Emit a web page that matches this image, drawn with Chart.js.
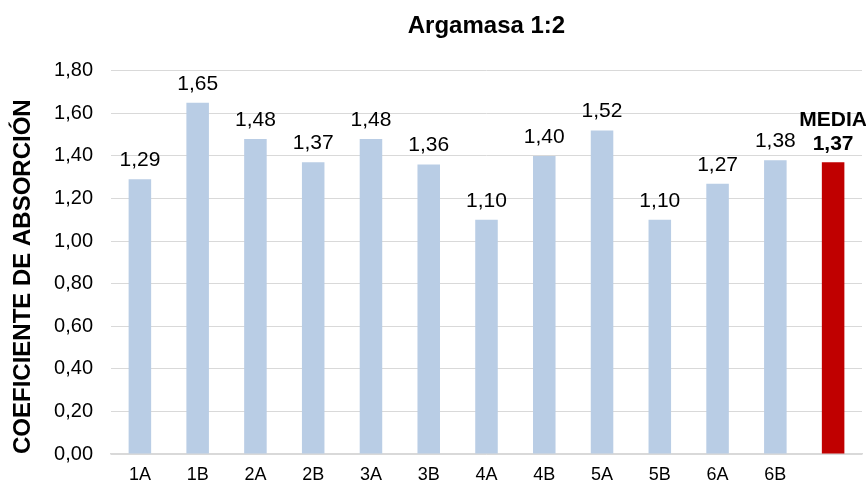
<!DOCTYPE html>
<html>
<head>
<meta charset="utf-8">
<script src="https://cdn.jsdelivr.net/npm/chart.js@4.4.1/dist/chart.umd.min.js"></script>
<style>
  html, body { margin: 0; padding: 0; background: #fff; }
  #wrap { width: 866px; height: 486px; position: relative; }
</style>
</head>
<body>
<div id="wrap"><canvas id="absorcionChart"></canvas></div>
<script>
// Muestras de argamasa 1:2 y la media final
const categorias = ['1A', '1B', '2A', '2B', '3A', '3B', '4A', '4B', '5A', '5B', '6A', '6B', ''];
const coeficientes = [1.29, 1.65, 1.48, 1.37, 1.48, 1.36, 1.10, 1.40, 1.52, 1.10, 1.27, 1.38, 1.37];
const etiquetaMedia = 'MEDIA';
const tituloGrafico = 'Argamasa 1:2';
const tituloEjeY = 'COEFICIENTE DE ABSORCIÓN';

const AZUL = '#B9CDE5';
const ROJO = '#C00000';
const FUENTE = '"Liberation Sans", Arial, sans-serif';

const formatoComa = v => Number(v).toFixed(2).replace('.', ',');

// etiquetas de valor encima de cada barra; la última lleva "MEDIA" en negrita
const etiquetasValor = {
    id: 'etiquetasValor',
    afterDatasetsDraw(chart) {
        const ctx = chart.ctx;
        const meta = chart.getDatasetMeta(0);
        const ultimo = meta.data.length - 1;
        ctx.save();
        ctx.textAlign = 'center';
        ctx.textBaseline = 'alphabetic';
        ctx.fillStyle = '#000';
        meta.data.forEach((bar, i) => {
            const texto = formatoComa(coeficientes[i]);
            if (i === ultimo) {
                ctx.font = 'bold 21px ' + FUENTE;
                ctx.fillText(texto, bar.x, bar.y - 12);
                ctx.fillText(etiquetaMedia, bar.x, bar.y - 36);
            } else {
                ctx.font = '21px ' + FUENTE;
                ctx.fillText(texto, bar.x, bar.y - 13);
            }
        });
        ctx.restore();
    }
};

const ctx = document.getElementById('absorcionChart').getContext('2d');
new Chart(ctx, {
    type: 'bar',
    data: {
        labels: categorias,
        datasets: [{
            data: coeficientes,
            backgroundColor: coeficientes.map((_, i) => i === coeficientes.length - 1 ? ROJO : AZUL),
            barPercentage: 0.39,
            categoryPercentage: 1.0
        }]
    },
    options: {
        responsive: true,
        maintainAspectRatio: false,
        animation: false,
        layout: { padding: { left: 0, right: 4, top: 0, bottom: 0 } },
        plugins: {
            legend: { display: false },
            tooltip: { enabled: false },
            title: {
                display: true,
                text: tituloGrafico,
                fullSize: false,
                color: '#000',
                font: { family: FUENTE, size: 24, weight: 'bold' },
                padding: { top: 12, bottom: 30 }
            }
        },
        scales: {
            x: {
                afterFit: s => { s.height = 32; },
                grid: { display: false, drawTicks: false },
                border: { display: true, color: '#D9D9D9', width: 1.5 },
                ticks: { color: '#000', padding: 10, font: { family: FUENTE, size: 18 } }
            },
            y: {
                min: 0,
                max: 1.8,
                afterFit: s => { s.width = 111; },
                grid: { color: '#D9D9D9', drawTicks: false },
                border: { display: false },
                ticks: {
                    stepSize: 0.2,
                    color: '#000',
                    padding: 18,
                    font: { family: FUENTE, size: 20 },
                    callback: v => formatoComa(v)
                },
                title: {
                    display: true,
                    text: tituloEjeY,
                    align: 'start',
                    color: '#000',
                    font: { family: FUENTE, size: 24, weight: 'bold' },
                    padding: { top: 9, bottom: 0 }
                }
            }
        }
    },
    plugins: [etiquetasValor]
});
</script>
</body>
</html>
